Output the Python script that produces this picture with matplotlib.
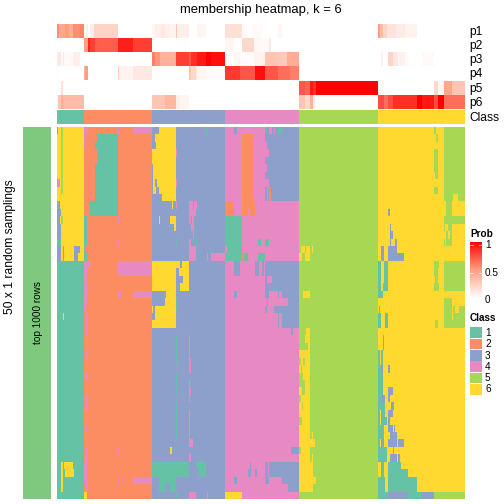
import numpy as np
import matplotlib
matplotlib.use('Agg')
import matplotlib.pyplot as plt
from matplotlib.colors import ListedColormap, LinearSegmentedColormap
from matplotlib.patches import Rectangle

plt.rcParams['font.family'] = ['Liberation Sans', 'DejaVu Sans']

class_colors = ['#66C2A5', '#FC8D62', '#8DA0CB', '#E78AC3', '#A6D854', '#FFD92F']
class_labels = ['1', '2', '3', '4', '5', '6']
prob_labels = ['p1', 'p2', 'p3', 'p4', 'p5', 'p6']
n_cols = 408

# every track is a list of (value, last column) runs
p1 = [(.55,2),(.42,4),(.45,8),(.5,12),(.42,16),(.55,23),(.58,27),(0,29),(.08,31),(0,33),(.08,37),(.22,61),(0,95),(.04,98),(.08,104),(.12,108),(.08,112),(.06,119),(.3,120),(.08,132),(0,140),(.05,149),(0,168),(.16,185),(.03,190),(0,195),(.03,205),(0,221),(.05,225),(0,321),(.5,323),(.35,326),(.22,330),(.14,339),(.1,348),(.06,360),(0,408)]
p2 = [(0,27),(.5,31),(.88,33),(.8,38),(.7,61),(.9,76),(.8,95),(0,168),(.05,177),(0,185),(.2,197),(.04,203),(.03,212),(.1,214),(0,408)]
p3 = [(.1,1),(.12,4),(.02,6),(.12,7),(.03,16),(.08,23),(0,95),(.6,98),(.52,103),(.4,119),(.8,132),(.72,134),(.85,140),(.92,149),(1,154),(.95,168),(0,177),(.05,183),(.02,197),(.06,208),(.3,221),(.28,230),(.42,242),(0,324),(.06,326),(0,331),(.22,336),(.12,341),(.07,348),(.03,351),(0,365),(.03,377),(0,408)]
p4 = [(.02,1),(0,27),(.4,28),(.5,31),(0,61),(.25,62),(.06,76),(.12,95),(0,132),(.3,134),(.2,139),(.1,140),(.05,150),(.02,168),(.82,183),(.72,198),(.95,208),(.72,221),(.65,233),(.6,242),(0,408)]
p5 = [(0,4),(.15,6),(0,242),(.72,248),(.68,253),(.92,256),(.85,259),(1,321),(0,377),(.2,381),(.05,387),(.45,395),(.3,408)]
p6 = [(.05,1),(.3,4),(.42,6),(.35,27),(0,95),(.3,108),(.37,119),(.08,123),(.05,132),(0,242),(.3,248),(.2,253),(.4,256),(.1,258),(0,321),(.75,327),(.65,331),(.75,336),(.85,360),(1,365),(.92,377),(.75,381),(1,387),(.65,408)]
prob_tracks = [p1, p2, p3, p4, p5, p6]

class_track = [(1,27),(2,95),(3,168),(4,242),(5,321),(6,408)]

sampling_rows = [
    [(3,1),(6,4),(5,6),(6,27),(4,31),(2,61),(4,62),(2,76),(4,95),(3,102),(6,119),(3,149),(1,150),(3,168),(4,177),(3,180),(4,208),(1,210),(3,212),(4,215),(3,217),(4,218),(3,221),(1,225),(3,242),(5,321),(6,377),(5,379),(6,387),(5,408)],
    [(6,4),(5,6),(6,27),(4,28),(2,40),(1,61),(2,95),(3,98),(6,119),(3,168),(4,185),(2,197),(4,208),(3,242),(5,321),(6,379),(5,381),(6,387),(5,408)],
    [(6,4),(5,6),(6,27),(4,28),(2,38),(1,61),(2,95),(3,99),(6,119),(3,168),(4,185),(2,197),(4,210),(3,242),(5,321),(6,387),(5,408)],
    [(6,4),(5,6),(6,27),(2,40),(1,61),(2,95),(6,119),(4,120),(3,168),(4,185),(2,197),(4,212),(3,242),(5,321),(6,377),(5,381),(6,387),(5,408)],
    [(6,4),(5,6),(6,27),(2,40),(1,61),(2,95),(6,119),(3,168),(4,185),(2,197),(4,208),(3,242),(5,321),(6,377),(5,381),(6,387),(5,408)],
    [(6,4),(5,6),(6,27),(2,38),(1,61),(2,95),(3,96),(6,119),(3,168),(4,185),(2,197),(4,210),(3,242),(5,321),(6,377),(5,381),(6,387),(5,408)],
    [(6,4),(5,6),(6,27),(2,38),(1,61),(2,95),(3,96),(6,119),(3,168),(4,185),(2,197),(4,208),(3,242),(5,321),(6,378),(5,381),(6,387),(5,408)],
    [(4,3),(6,4),(5,6),(6,27),(2,38),(1,61),(2,95),(3,96),(6,98),(3,100),(6,119),(4,120),(3,168),(4,185),(2,197),(4,212),(3,242),(5,321),(6,387),(5,408)],
    [(6,4),(5,6),(6,27),(2,38),(1,61),(2,95),(3,96),(6,99),(3,102),(6,119),(3,168),(4,185),(2,197),(4,208),(3,210),(4,211),(3,212),(2,214),(3,242),(5,321),(6,377),(5,381),(6,387),(5,408)],
    [(6,27),(2,38),(1,61),(2,95),(3,105),(6,119),(3,168),(4,185),(2,197),(4,208),(3,210),(4,211),(3,212),(2,214),(3,242),(5,321),(6,387),(5,396),(6,401),(5,408)],
    [(4,1),(3,3),(6,27),(2,33),(1,61),(2,95),(3,115),(6,116),(3,119),(4,120),(3,132),(4,136),(3,137),(4,140),(3,168),(2,177),(4,185),(2,198),(4,204),(2,205),(4,242),(5,321),(6,389),(5,395),(6,408)],
    [(3,4),(6,27),(2,33),(1,61),(2,95),(3,132),(4,139),(3,168),(2,177),(4,185),(2,191),(4,193),(2,198),(4,242),(5,321),(6,331),(3,333),(6,389),(5,395),(6,408)],
    [(3,3),(6,4),(5,6),(6,27),(1,30),(2,61),(4,62),(2,95),(3,102),(6,103),(3,113),(6,119),(3,132),(4,134),(3,135),(4,137),(3,168),(1,185),(4,242),(5,321),(6,387),(5,408)],
    [(3,4),(6,27),(1,30),(2,95),(3,117),(6,119),(3,134),(4,137),(3,168),(1,185),(4,242),(5,321),(6,333),(3,334),(6,387),(5,388),(6,391),(5,395),(6,408)],
    [(3,4),(6,27),(1,30),(2,95),(3,136),(4,137),(3,168),(1,185),(4,242),(5,321),(6,333),(3,336),(6,389),(5,391),(6,393),(5,395),(6,408)],
    [(1,4),(6,27),(1,30),(2,61),(4,62),(2,95),(3,119),(1,120),(3,132),(4,134),(3,139),(1,140),(3,168),(1,185),(4,201),(1,204),(4,208),(1,212),(4,242),(5,321),(6,333),(3,334),(6,338),(3,340),(6,387),(5,388),(6,389),(5,395),(6,408)],
    [(3,4),(6,6),(3,7),(6,17),(3,23),(6,27),(1,28),(2,95),(3,132),(4,139),(3,168),(4,170),(1,185),(4,242),(5,244),(6,248),(5,249),(6,253),(5,255),(6,256),(5,321),(6,324),(3,327),(6,331),(3,340),(6,408)],
    [(3,4),(6,6),(3,7),(6,17),(3,21),(6,27),(1,30),(2,95),(3,132),(4,139),(3,150),(4,151),(3,154),(4,168),(1,185),(2,187),(1,191),(4,201),(1,208),(4,242),(6,245),(5,248),(6,253),(5,321),(6,324),(3,327),(6,331),(3,347),(6,408)],
    [(1,27),(4,33),(2,61),(4,95),(6,123),(3,125),(6,132),(3,168),(4,177),(3,183),(4,198),(3,202),(4,205),(3,207),(4,208),(3,242),(5,321),(1,324),(6,327),(1,331),(6,377),(5,382),(6,387),(5,408)],
    [(1,27),(4,31),(2,61),(4,95),(6,119),(3,122),(6,132),(3,168),(4,177),(3,183),(4,198),(3,202),(4,205),(3,207),(4,208),(3,242),(5,321),(1,324),(6,327),(1,331),(6,377),(5,381),(6,387),(5,408)],
    [(1,27),(4,30),(2,95),(6,119),(3,126),(6,132),(3,168),(4,208),(3,210),(4,215),(3,242),(5,321),(1,324),(6,327),(1,331),(6,378),(5,381),(6,387),(5,408)],
    [(1,27),(4,31),(2,95),(6,119),(3,123),(6,132),(3,168),(4,208),(3,242),(5,321),(1,324),(6,326),(1,331),(6,377),(5,382),(6,387),(5,408)],
    [(1,27),(4,31),(2,61),(4,64),(2,76),(4,95),(3,109),(6,119),(3,168),(4,177),(3,180),(4,208),(3,212),(4,221),(3,222),(4,225),(3,242),(5,246),(6,253),(5,321),(1,326),(6,408)],
    [(1,27),(4,30),(2,95),(3,108),(6,119),(1,120),(3,168),(4,210),(3,211),(4,231),(3,242),(5,321),(6,387),(5,395),(6,408)],
    [(1,27),(4,29),(2,95),(6,96),(3,98),(6,119),(1,120),(3,168),(4,208),(3,210),(4,217),(3,242),(5,321),(6,322),(1,323),(6,387),(5,395),(6,396),(5,398),(6,402),(5,408)],
    [(1,6),(6,7),(1,27),(2,28),(4,31),(2,95),(3,98),(6,119),(3,168),(4,221),(3,222),(4,225),(3,242),(5,321),(1,324),(6,328),(1,331),(6,387),(5,395),(6,396),(5,408)],
    [(1,27),(2,28),(4,31),(2,95),(6,119),(3,168),(4,221),(3,222),(4,225),(3,242),(5,321),(1,324),(6,328),(1,331),(6,378),(5,381),(6,387),(5,408)],
    [(1,27),(2,28),(4,31),(2,95),(3,168),(4,234),(3,236),(4,242),(5,249),(6,253),(5,321),(6,408)],
    [(1,27),(2,30),(4,31),(2,95),(3,119),(1,120),(3,132),(4,133),(3,168),(4,242),(5,248),(6,253),(5,321),(6,326),(1,327),(6,408)],
    [(1,27),(2,30),(4,31),(2,95),(3,119),(1,120),(3,132),(4,133),(3,168),(4,242),(5,251),(6,253),(5,321),(6,326),(1,327),(6,408)],
    [(1,27),(2,28),(4,31),(2,95),(3,119),(1,120),(3,132),(4,133),(3,168),(4,242),(6,253),(5,321),(1,323),(6,324),(1,326),(6,408)],
    [(1,27),(2,30),(4,31),(2,95),(3,119),(1,120),(3,132),(4,134),(3,168),(4,242),(5,244),(6,246),(5,248),(6,253),(5,321),(1,323),(6,324),(1,326),(6,408)],
    [(1,27),(2,95),(3,132),(4,134),(3,168),(4,242),(6,244),(5,245),(6,253),(5,321),(1,324),(3,326),(6,331),(3,333),(6,408)],
    [(1,27),(2,28),(4,31),(2,95),(3,119),(1,120),(3,168),(4,242),(5,246),(6,253),(5,321),(1,326),(6,408)],
    [(1,27),(2,95),(3,119),(1,120),(3,132),(4,133),(3,168),(4,242),(5,248),(6,253),(5,321),(1,326),(6,408)],
    [(1,27),(2,30),(4,31),(2,95),(3,119),(1,120),(3,132),(4,134),(3,168),(4,242),(6,245),(5,248),(6,253),(5,321),(1,326),(6,331),(3,336),(6,408)],
    [(1,27),(2,28),(4,31),(2,95),(3,132),(4,133),(3,168),(4,242),(5,244),(6,253),(5,321),(1,324),(3,328),(6,331),(3,333),(6,408)],
    [(1,27),(2,28),(4,31),(2,95),(3,119),(1,120),(3,168),(4,242),(6,245),(5,246),(6,253),(5,321),(1,328),(6,334),(3,337),(6,408)],
    [(1,27),(2,95),(3,119),(1,120),(3,132),(4,133),(3,168),(4,242),(6,253),(5,321),(1,323),(6,324),(1,328),(6,331),(3,336),(6,408)],
    [(1,27),(2,95),(3,119),(1,120),(3,132),(4,133),(3,168),(4,242),(5,245),(6,253),(5,321),(1,323),(6,324),(1,330),(6,331),(3,333),(6,408)],
    [(1,27),(2,28),(4,30),(2,95),(3,119),(1,120),(3,132),(4,133),(3,168),(4,242),(6,253),(5,321),(1,327),(6,331),(3,336),(6,337),(3,338),(6,408)],
    [(1,27),(2,95),(3,119),(1,120),(3,132),(4,133),(3,168),(4,242),(6,253),(5,255),(6,256),(5,321),(1,327),(6,333),(3,340),(6,408)],
    [(1,27),(2,30),(4,31),(2,95),(3,132),(4,136),(3,168),(4,242),(6,258),(5,321),(1,323),(6,324),(3,327),(6,331),(3,340),(6,341),(3,347),(6,408)],
    [(1,27),(2,28),(4,31),(2,61),(4,62),(2,95),(3,113),(6,115),(3,168),(4,234),(3,242),(5,244),(6,253),(5,321),(1,330),(6,336),(1,337),(6,408)],
    [(1,27),(2,28),(4,31),(2,95),(3,132),(4,134),(3,168),(4,242),(6,253),(5,255),(6,256),(5,321),(1,330),(6,333),(3,340),(6,341),(3,343),(6,408)],
    [(1,4),(6,6),(1,7),(6,16),(1,27),(4,30),(2,95),(1,132),(3,139),(1,149),(3,168),(4,193),(3,194),(4,208),(3,211),(4,212),(3,242),(6,256),(5,321),(6,324),(1,327),(6,331),(1,344),(6,408)],
    [(1,4),(6,6),(1,8),(6,17),(1,27),(4,30),(2,95),(1,132),(3,142),(1,149),(3,168),(4,191),(3,194),(4,198),(3,200),(4,208),(3,211),(4,212),(3,242),(6,256),(5,321),(6,324),(1,327),(6,331),(1,351),(6,408)],
    [(3,1),(1,4),(6,6),(1,27),(4,31),(2,61),(4,62),(2,64),(4,65),(2,76),(4,95),(3,102),(1,119),(3,168),(4,177),(3,180),(4,208),(3,212),(4,225),(3,242),(6,259),(5,321),(1,328),(6,331),(1,360),(6,408)],
    [(1,4),(6,6),(1,27),(2,28),(4,31),(2,95),(3,102),(1,108),(3,113),(1,119),(3,168),(4,231),(3,242),(6,256),(5,321),(1,328),(6,331),(1,360),(6,408)],
    [(1,27),(6,30),(2,95),(3,119),(1,120),(3,132),(4,139),(3,150),(4,151),(3,168),(6,185),(4,242),(5,321),(1,331),(3,351),(1,365),(3,377),(5,408)],
]


def expand(runs):
    values = np.zeros(n_cols)
    start = 0
    for v, end in runs:
        values[start:end] = v
        start = end
    return values


def px_axes(x0, y0, x1, y1):
    # position given in pixels from the top left corner
    ax = fig.add_axes([x0 / 504, 1 - y1 / 504, (x1 - x0) / 504, (y1 - y0) / 504])
    ax.axis('off')
    return ax


def px_text(x, y, s, **kw):
    fig.text(x / 504, 1 - y / 504, s, **kw)


fig = plt.figure(figsize=(7, 7), dpi=72)

prob_cmap = LinearSegmentedColormap.from_list('prob', ['#FFFFFF', '#FF9E81', '#FF0000'])
class_cmap = ListedColormap(class_colors)

# probability tracks
prob_top = [24, 38, 52, 66, 81, 95]
for i in range(6):
    ax = px_axes(57, prob_top[i], 465, prob_top[i] + 14)
    ax.imshow(expand(prob_tracks[i])[None, :], aspect='auto', interpolation='nearest', cmap=prob_cmap, vmin=0, vmax=1)
    px_text(469, prob_top[i] + 8, prob_labels[i], fontsize=12, va='center', color='black')

# class track
ax = px_axes(57, 110, 465, 124)
ax.imshow(expand(class_track)[None, :], aspect='auto', interpolation='nearest', cmap=class_cmap, vmin=1, vmax=6)
px_text(469, 118, 'Class', fontsize=12, va='center', color='black')

# main heatmap
ax = px_axes(57, 127, 465, 499)
matrix = np.array([expand(r) for r in sampling_rows])
ax.imshow(matrix, aspect='auto', interpolation='nearest', cmap=class_cmap, vmin=1, vmax=6)

# left annotation bar
ax = px_axes(23, 127, 51, 499)
ax.add_patch(Rectangle((0, 0), 1, 1, color='#7FC97F', lw=0))
px_text(38, 313, 'top 1000 rows', fontsize=10, rotation=90, ha='center', va='center', color='black')
px_text(10.5, 247, '50 x 1 random samplings', fontsize=12, rotation=90, ha='center', va='center', color='black')

px_text(260.5, 10, 'membership heatmap, k = 6', fontsize=13, ha='center', va='center', color='black')

# prob legend
px_text(470, 234, 'Prob', fontsize=10, fontweight='bold', va='center')
ax = px_axes(470, 242, 482, 300)
ax.imshow(np.linspace(1, 0, 58)[:, None], aspect='auto', cmap=prob_cmap, vmin=0, vmax=1)
for t, y in [('1', 245), ('0.5', 273), ('0', 300)]:
    px_text(485, y, t, fontsize=10, va='center')
for y in (245, 273):
    ax.plot([-0.5, -0.28], [y - 242, y - 242], color='white', lw=0.6)
    ax.plot([0.28, 0.5], [y - 242, y - 242], color='white', lw=0.6)
ax.set_xlim(-0.5, 0.5)
ax.set_ylim(58, 0)

# class legend
px_text(470, 318, 'Class', fontsize=10, fontweight='bold', va='center')
ax = px_axes(470, 327, 482, 395)
ax.set_xlim(0, 1)
ax.set_ylim(6, 0)
for i in range(6):
    ax.add_patch(Rectangle((0.04, i + 0.03), 0.92, 0.94, color=class_colors[i], lw=0))
    px_text(485, 333 + i * 11.3, class_labels[i], fontsize=10, va='center')

fig.savefig('out.png', dpi=72)
